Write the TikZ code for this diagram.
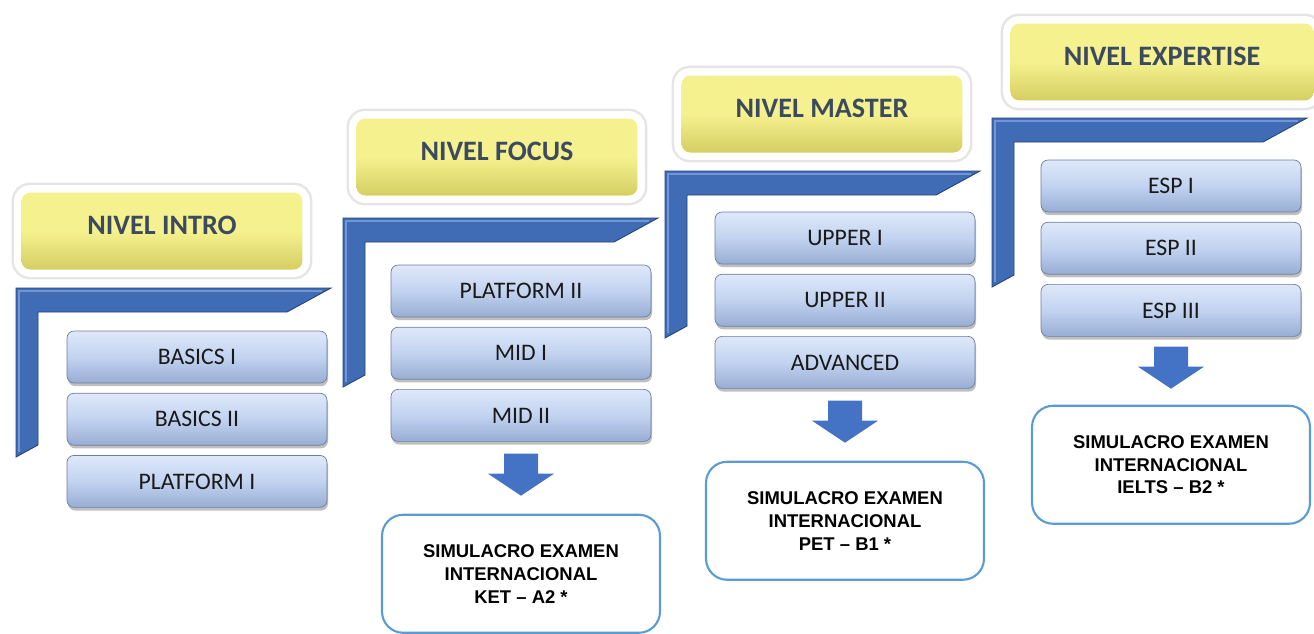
\documentclass[tikz,border=0pt]{standalone}
\usepackage{fontspec}
\setmainfont{Carlito}
\newfontfamily\examfont{Liberation Sans}
\usepackage{tikz}
\usetikzlibrary{positioning,shadows}

\definecolor{hdryellow}{RGB}{245,241,143}
\definecolor{hdryellowdk}{RGB}{212,206,98}
\definecolor{hdrtext}{RGB}{59,74,94}
\definecolor{coursetop}{RGB}{222,232,249}
\definecolor{coursemid}{RGB}{194,211,240}
\definecolor{coursebot}{RGB}{152,173,212}
\definecolor{courseedge}{RGB}{108,126,160}
\definecolor{barblue}{RGB}{64,108,182}
\definecolor{barbluelt}{RGB}{112,150,214}
\definecolor{barbluedk}{RGB}{36,66,122}
\definecolor{arrowblue}{RGB}{68,114,196}
\definecolor{examedge}{RGB}{91,155,213}

% L shaped bar: left x, top y, bottom y (in pixels)
\newcommand{\lbar}[3]{%
  \fill[barblue, draw=barbluedk, line width=0.5pt]
    (#1,#2) -- ++(315,0) -- ++(-44,24) -- (#1+22,#2+24)
    -- (#1+22,#3-12) -- (#1,#3) -- cycle;
  \draw[barbluelt, line width=1.2pt]
    (#1+3,#3-5) -- (#1+3,#2+3) -- (#1+306,#2+3);}
% block arrow pointing down, top centre at #1
\newcommand{\blockarrow}[1]{%
  \fill[arrowblue] (#1) ++(-17,0) -- ++(34,0) -- ++(0,20) -- ++(16,0)
    -- ++(-33,22) -- ++(-33,-22) -- ++(16,0) -- cycle;}

\begin{document}
\begin{tikzpicture}[x=0.02cm,y=-0.02cm,node distance=0.19cm,
  header/.style={rounded corners=5pt,minimum width=5.62cm,minimum height=1.54cm,
    text depth=0.22cm,
    top color=hdryellow,bottom color=hdryellowdk,middle color=hdryellow,
    text=hdrtext,font=\bfseries\fontsize{16}{19}\selectfont,
    preaction={draw=black!10,line width=0.4cm},
    preaction={draw=white,line width=0.3cm}},
  course/.style={rounded corners=4pt,minimum width=5.2cm,minimum height=1.04cm,
    top color=coursetop,bottom color=coursebot,middle color=coursemid,
    draw=courseedge,line width=0.4pt,
    drop shadow={shadow xshift=0.6pt,shadow yshift=-1.8pt,opacity=0.5},
    text=black!90,font=\fontsize{13.5}{16}\selectfont},
  exam/.style={draw=examedge,line width=1.2pt,fill=white,rounded corners=12pt,
    minimum width=5.56cm,minimum height=2.36cm,align=center,
    font=\examfont\bfseries\fontsize{10.5}{13}\selectfont}]
  \useasboundingbox (0,0) rectangle (1314,633);

  \lbar{16}{288}{457}
  \lbar{343}{218}{387}
  \lbar{665}{171}{338}
  \lbar{992}{118}{287}

  % headers
  \node[header] (intro) at (162,231) {NIVEL INTRO};
  \node[header] (focus) at (497,157) {NIVEL FOCUS};
  \node[header] (master) at (822,114) {NIVEL MASTER};
  \node[header,minimum width=6.06cm] (expertise) at (1162,62) {NIVEL EXPERTISE};

  % courses
  \node[course] (basics1) at (197,357) {BASICS I};
  \node[course] (basics2) [below=of basics1] {BASICS II};
  \node[course] (plat1) [below=of basics2] {PLATFORM I};

  \node[course] (plat2) at (521,291) {PLATFORM II};
  \node[course] (mid1) [below=of plat2] {MID I};
  \node[course] (mid2) [below=of mid1] {MID II};

  \node[course] (upper1) at (845,238) {UPPER I};
  \node[course] (upper2) [below=of upper1] {UPPER II};
  \node[course] (adv) [below=of upper2] {ADVANCED};

  \node[course] (esp1) at (1171,186) {ESP I};
  \node[course] (esp2) [below=of esp1] {ESP II};
  \node[course] (esp3) [below=of esp2] {ESP III};

  % arrows and exams
  \coordinate[below=0.24cm of mid2] (a2);
  \coordinate[below=0.24cm of adv] (a3);
  \coordinate[below=0.2cm of esp3] (a4);
  \blockarrow{a2}
  \blockarrow{a3}
  \blockarrow{a4}

  \node[exam,below=1.2cm of a2] (ket) {SIMULACRO EXAMEN\\INTERNACIONAL\\KET – A2 *};
  \node[exam,below=1.2cm of a3] (pet) {SIMULACRO EXAMEN\\INTERNACIONAL\\PET – B1 *};
  \node[exam,below=1.16cm of a4] (ielts) {SIMULACRO EXAMEN\\INTERNACIONAL\\IELTS – B2 *};
\end{tikzpicture}
\end{document}
